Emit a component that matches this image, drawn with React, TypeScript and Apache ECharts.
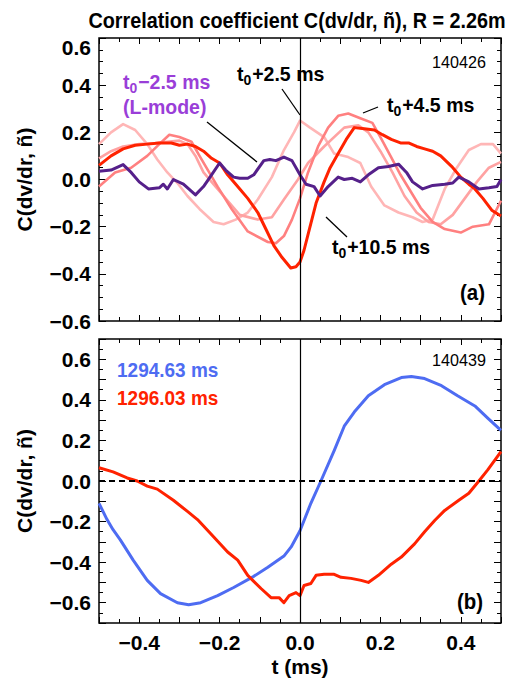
import React, { useEffect, useRef } from "react";
import * as echarts from "echarts";

// Panel (a), shot 140426: correlation traces [t (ms), C]
const lModeMinus25: [number, number][] = [
  [-0.5, 0.035], [-0.47, 0.04], [-0.44, 0.063], [-0.42, 0.03], [-0.4, -0.01], [-0.377, -0.04],
  [-0.35, -0.035], [-0.34, -0.02], [-0.33, -0.04], [-0.315, 0.0], [-0.29, -0.02], [-0.26, -0.065],
  [-0.24, -0.03], [-0.22, 0.02], [-0.2, 0.07], [-0.185, 0.04], [-0.165, 0.01], [-0.15, 0.005],
  [-0.13, 0.005], [-0.115, 0.02], [-0.09, 0.08], [-0.075, 0.085], [-0.06, 0.08], [-0.04, 0.095],
  [-0.02, 0.08], [0, 0.02], [0.015, -0.02], [0.035, -0.03], [0.05, -0.07], [0.07, -0.03],
  [0.095, 0.01], [0.11, 0.0], [0.13, 0.005], [0.15, -0.01], [0.17, 0.02], [0.195, 0.05],
  [0.22, 0.055], [0.245, 0.065], [0.265, 0.03], [0.28, -0.01], [0.305, -0.04], [0.33, -0.025],
  [0.36, -0.02], [0.38, -0.015], [0.395, 0.01], [0.42, -0.01], [0.445, -0.04], [0.47, -0.035],
  [0.49, -0.03], [0.5, 0.0],
];

const hPlus25: [number, number][] = [
  [-0.5, 0.15], [-0.47, 0.2], [-0.44, 0.235], [-0.41, 0.21], [-0.38, 0.15], [-0.355, 0.085],
  [-0.33, 0.03], [-0.305, -0.015], [-0.28, -0.07], [-0.25, -0.125], [-0.215, -0.18], [-0.19, -0.19],
  [-0.16, -0.17], [-0.13, -0.14], [-0.105, -0.085], [-0.07, 0.01], [-0.04, 0.125], [-0.015, 0.2],
  [0, 0.25], [0.025, 0.22], [0.06, 0.18], [0.085, 0.11], [0.12, 0.095], [0.15, 0.07],
  [0.177, -0.03], [0.21, -0.11], [0.245, -0.14], [0.28, -0.16], [0.305, -0.18], [0.33, -0.17],
  [0.36, -0.04], [0.39, 0.05], [0.42, 0.125], [0.45, 0.15], [0.48, 0.15], [0.5, 0.11],
];

const hPlus45: [number, number][] = [
  [-0.5, -0.03], [-0.46, 0.03], [-0.42, 0.05], [-0.38, 0.1], [-0.35, 0.15], [-0.325, 0.19],
  [-0.3, 0.18], [-0.27, 0.16], [-0.25, 0.1], [-0.205, -0.03], [-0.17, -0.125], [-0.13, -0.22],
  [-0.08, -0.265], [-0.06, -0.27], [-0.04, -0.24], [-0.02, -0.17], [0, -0.08], [0.02, 0.03],
  [0.045, 0.14], [0.07, 0.22], [0.095, 0.27], [0.12, 0.28], [0.15, 0.26], [0.18, 0.24],
  [0.2, 0.18], [0.225, 0.1], [0.25, 0.02], [0.275, -0.05], [0.3, -0.12], [0.33, -0.18],
  [0.36, -0.21], [0.4, -0.225], [0.43, -0.2], [0.47, -0.19], [0.5, -0.09],
];

const hPlus65: [number, number][] = [
  [-0.5, 0.09], [-0.47, 0.12], [-0.44, 0.14], [-0.4, 0.15], [-0.36, 0.155], [-0.33, 0.16],
  [-0.3, 0.165], [-0.28, 0.15], [-0.26, 0.1], [-0.24, 0.03], [-0.21, -0.03], [-0.19, -0.07],
  [-0.15, -0.15], [-0.105, -0.17], [-0.07, -0.16], [-0.04, -0.085], [-0.005, 0.0], [0.02, 0.07],
  [0.06, 0.14], [0.11, 0.22], [0.145, 0.23], [0.17, 0.2], [0.2, 0.12], [0.23, 0.03],
  [0.26, -0.07], [0.29, -0.14], [0.32, -0.18], [0.35, -0.19], [0.38, -0.15], [0.41, -0.08],
  [0.44, -0.01], [0.47, 0.05], [0.5, 0.075],
];

const hPlus105: [number, number][] = [
  [-0.5, 0.06], [-0.47, 0.1], [-0.44, 0.13], [-0.41, 0.145], [-0.38, 0.15], [-0.35, 0.155],
  [-0.32, 0.155], [-0.3, 0.145], [-0.28, 0.15], [-0.26, 0.14], [-0.24, 0.12], [-0.22, 0.09],
  [-0.2, 0.07], [-0.18, 0.02], [-0.155, -0.03], [-0.13, -0.08], [-0.105, -0.14], [-0.085, -0.21],
  [-0.065, -0.28], [-0.045, -0.33], [-0.023, -0.375], [-0.01, -0.37], [0, -0.35], [0.01, -0.3],
  [0.025, -0.2], [0.04, -0.1], [0.06, -0.01], [0.075, 0.05], [0.095, 0.11], [0.115, 0.17],
  [0.135, 0.22], [0.16, 0.215], [0.185, 0.21], [0.205, 0.19], [0.227, 0.17], [0.25, 0.155],
  [0.27, 0.155], [0.29, 0.14], [0.31, 0.13], [0.33, 0.12], [0.35, 0.1], [0.377, 0.056],
  [0.4, 0.01], [0.42, -0.02], [0.435, -0.04], [0.455, -0.08], [0.477, -0.13], [0.5, -0.155],
];

// Panel (b), shot 140439
const t129463: [number, number][] = [
  [-0.5, -0.11], [-0.48, -0.19], [-0.465, -0.24], [-0.447, -0.29], [-0.415, -0.39], [-0.38, -0.49],
  [-0.347, -0.555], [-0.305, -0.6], [-0.277, -0.61], [-0.247, -0.6], [-0.205, -0.565],
  [-0.165, -0.525], [-0.115, -0.47], [-0.08, -0.425], [-0.04, -0.37], [-0.022, -0.325],
  [0, -0.245], [0.027, -0.11], [0.052, 0.0], [0.085, 0.15], [0.11, 0.27], [0.135, 0.34],
  [0.17, 0.42], [0.21, 0.475], [0.252, 0.51], [0.277, 0.515], [0.31, 0.505], [0.352, 0.47],
  [0.392, 0.42], [0.435, 0.37], [0.467, 0.31], [0.5, 0.25],
];

const t129603: [number, number][] = [
  [-0.5, 0.065], [-0.465, 0.045], [-0.43, 0.015], [-0.405, 0.0], [-0.38, -0.025], [-0.355, -0.04],
  [-0.315, -0.095], [-0.28, -0.15], [-0.255, -0.19], [-0.222, -0.26], [-0.18, -0.35],
  [-0.155, -0.39], [-0.13, -0.465], [-0.097, -0.53], [-0.072, -0.575], [-0.052, -0.575],
  [-0.04, -0.6], [-0.027, -0.565], [-0.01, -0.55], [0, -0.565], [0.01, -0.515], [0.027, -0.505],
  [0.04, -0.465], [0.06, -0.46], [0.085, -0.46], [0.102, -0.475], [0.127, -0.48], [0.152, -0.49],
  [0.17, -0.5], [0.195, -0.465], [0.227, -0.41], [0.252, -0.375], [0.285, -0.31], [0.31, -0.25],
  [0.335, -0.195], [0.36, -0.145], [0.395, -0.095], [0.42, -0.06], [0.445, 0.0], [0.467, 0.055],
  [0.5, 0.145],
];

const FONT = "'Liberation Sans Narrow', 'Liberation Sans', Arial, sans-serif";
const RED = "#ff2200";
const BLUE = "#4e6cf2";
const PURPLE = "#55208a";
const PURPLE_TXT = "#9a3ed8";

const fmtTick = (v: number, every: number) => {
  const k = Math.round(v * 100);
  if (k % every !== 0) return "";
  const r = k / 100;
  if (r === 0) return "0.0";
  return (r < 0 ? "\u2212" : "") + Math.abs(r).toFixed(1);
};

const tickLabel = {
  fontFamily: FONT,
  fontWeight: "bold" as const,
  fontSize: 21,
  color: "#000",
};

function xAxes(gridIndex: number, withLabels: boolean) {
  const base = {
    type: "value" as const,
    gridIndex,
    min: -0.5,
    max: 0.5,
    interval: 0.1,
    axisLine: { show: false, onZero: false },
    splitLine: { show: false },
    axisTick: { show: true, inside: true, length: 6, lineStyle: { color: "#000", width: 1 } },
    minorTick: { show: true, splitNumber: 2, length: 4, lineStyle: { color: "#000", width: 1 } },
  };
  return [
    {
      ...base,
      position: "bottom" as const,
      axisLabel: withLabels
        ? { ...tickLabel, margin: 9, formatter: (v: number) => (Math.abs(v) > 0.45 ? "" : fmtTick(v, 20)) }
        : { show: false },
      name: withLabels ? "t (ms)" : "",
      nameLocation: "middle" as const,
      nameGap: 33,
      nameTextStyle: { ...tickLabel },
    },
    { ...base, position: "top" as const, axisLabel: { show: false } },
  ];
}

function yAxes(gridIndex: number, panelA: boolean) {
  const base = {
    type: "value" as const,
    gridIndex,
    min: panelA ? -0.6 : -0.7,
    max: panelA ? 0.6 : 0.7,
    interval: panelA ? 0.2 : 0.1,
    axisLine: { show: false, onZero: false },
    splitLine: { show: false },
    axisTick: { show: true, inside: true, length: 7, lineStyle: { color: "#000", width: 1 } },
    minorTick: { show: true, splitNumber: panelA ? 4 : 2, length: 4, lineStyle: { color: "#000", width: 1 } },
  };
  return [
    {
      ...base,
      position: "left" as const,
      axisLabel: {
        ...tickLabel,
        margin: 8,
        formatter: (v: number) => {
          const s = fmtTick(v, 20);
          if (panelA && Math.round(v * 10) === 6) return "{top|" + s + "}";
          return s;
        },
        rich: { top: { ...tickLabel, padding: [18, 0, 0, 0] } },
      },
      name: "C(dv/dr, \u00f1)",
      nameLocation: "middle" as const,
      nameRotate: 90,
      nameGap: 64,
      nameTextStyle: { ...tickLabel },
    },
    { ...base, position: "right" as const, axisLabel: { show: false } },
  ];
}

const lineSeries = (name: string, data: [number, number][], color: string, width: number, axis: number, z = 2) => ({
  type: "line" as const,
  name,
  data,
  xAxisIndex: axis,
  yAxisIndex: axis,
  showSymbol: false,
  symbol: "none",
  smooth: false,
  z,
  lineStyle: { color, width, join: "round" as const },
});

const refLines = (axis: number, withZeroLine: boolean) => ({
  type: "line" as const,
  data: [],
  xAxisIndex: axis,
  yAxisIndex: axis,
  z: 10,
  markLine: {
    silent: true,
    symbol: "none",
    label: { show: false },
    animation: false,
    data: [
      { xAxis: 0, lineStyle: { color: "#000", width: 1.2, type: "solid" as const } },
      ...(withZeroLine ? [{ yAxis: 0, lineStyle: { color: "#000", width: 2, type: [6, 4] as any } }] : []),
    ],
  },
});

const txt = (
  text: string,
  x: number,
  y: number,
  opts: { color?: string; size?: number; weight?: string; align?: string; sx?: number } = {}
) => ({
  type: "text" as const,
  x,
  y,
  z: 20,
  scaleX: opts.sx || 0.93,
  style: {
    text,
    fill: opts.color || "#000",
    fontFamily: FONT,
    fontSize: opts.size || 21,
    fontWeight: opts.weight || "bold",
    align: opts.align || "left",
    verticalAlign: "middle",
    rich: {
      s: { fontFamily: FONT, fontSize: 15, fontWeight: opts.weight || "bold", fill: opts.color || "#000", padding: [12, 1, 0, 0] },
    },
  },
});

const leader = (x1: number, y1: number, x2: number, y2: number) => ({
  type: "line" as const,
  z: 20,
  shape: { x1, y1, x2, y2 },
  style: { stroke: "#000", lineWidth: 1.3 },
});

export default function App() {
  const ref = useRef<HTMLDivElement>(null);
  useEffect(() => {
    if (!ref.current) return;
    const chart = echarts.init(ref.current, null, { renderer: "svg" });
    chart.setOption({
      animation: false,
      backgroundColor: "#fff",
      textStyle: { fontFamily: FONT },
      grid: [
        { left: 99, top: 38, width: 402, height: 283, show: true, borderColor: "#000", borderWidth: 1.5, backgroundColor: "transparent" },
        { left: 99, top: 339, width: 402, height: 284, show: true, borderColor: "#000", borderWidth: 1.5, backgroundColor: "transparent" },
      ],
      xAxis: [...xAxes(0, false), ...xAxes(1, true)],
      yAxis: [...yAxes(0, true), ...yAxes(1, false)],
      series: [
        lineSeries("t0+2.5 ms", hPlus25, "#ffb6b6", 2.6, 0),
        lineSeries("t0+6.5 ms", hPlus65, "#ffa2a2", 2.6, 0),
        lineSeries("t0+4.5 ms", hPlus45, "#ff8080", 2.6, 0),
        lineSeries("t0+10.5 ms", hPlus105, RED, 3, 0, 3),
        lineSeries("t0-2.5 ms (L-mode)", lModeMinus25, PURPLE, 3, 0, 4),
        refLines(0, false),
        lineSeries("1294.63 ms", t129463, BLUE, 3, 2),
        lineSeries("1296.03 ms", t129603, RED, 3, 2),
        refLines(2, true),
      ],
      graphic: [
        txt("Correlation coefficient C(dv/dr, \u00f1), R = 2.26m", 297, 20, { size: 22, align: "center", sx: 0.9 }),
        txt("140426", 486, 62, { size: 17, weight: "normal", align: "right", sx: 0.95 }),
        txt("t{s|0}+2.5 ms", 237, 74),
        txt("t{s|0}+4.5 ms", 387, 105),
        txt("t{s|0}\u22122.5 ms", 123, 82, { color: PURPLE_TXT }),
        txt("(L-mode)", 123, 107, { color: PURPLE_TXT }),
        txt("t{s|0}+10.5 ms", 332, 247),
        txt("(a)", 460, 293, { size: 22 }),
        leader(282, 89, 300, 115),
        leader(363, 113, 378, 107),
        leader(207, 122, 257, 162),
        leader(326, 217, 347, 237),
        txt("1294.63 ms", 117, 370, { color: BLUE, size: 20, sx: 0.95 }),
        txt("1296.03 ms", 117, 398, { color: RED, size: 20, sx: 0.95 }),
        txt("140439", 486, 360, { size: 17, weight: "normal", align: "right", sx: 0.95 }),
        txt("(b)", 457, 602, { size: 22 }),
      ],
    });
    return () => chart.dispose();
  }, []);
  return <div ref={ref} style={{ width: 511, height: 686, position: "absolute", left: 0, top: 0 }} />;
}
